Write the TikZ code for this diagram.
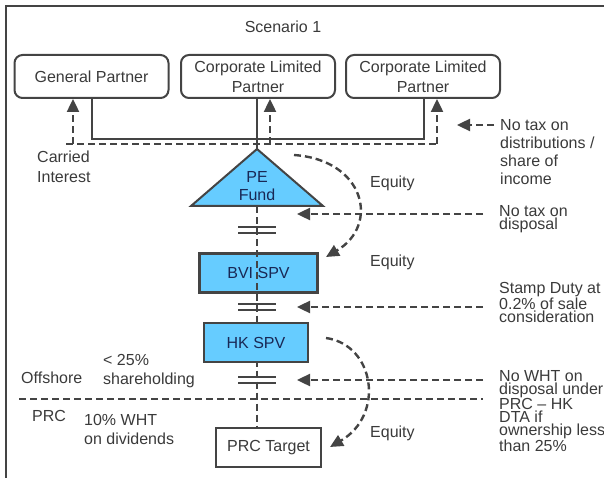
\documentclass[tikz,border=0pt]{standalone}
\usepackage{fontspec}
\setmainfont{Liberation Sans}
\usetikzlibrary{arrows.meta}
\definecolor{ink}{RGB}{68,68,68}
\definecolor{txt}{RGB}{58,58,58}
\definecolor{fundblue}{RGB}{102,204,255}
\definecolor{navy}{RGB}{25,40,85}

\begin{document}
\begin{tikzpicture}[x=1pt,y=-1pt,
  every node/.style={font=\fontsize{16}{18}\selectfont, text=txt, inner sep=0pt},
  partybox/.style={draw=ink, line width=2pt, rounded corners=8pt,
    minimum width=154pt, minimum height=43pt, align=center,
    font=\fontsize{16}{20}\selectfont},
  entitybox/.style={draw=ink, line width=2.4pt, fill=fundblue, text=navy,
    minimum height=39pt},
  plainbox/.style={draw=ink, line width=2pt, fill=white, minimum height=39pt},
  link/.style={draw=ink, line width=2pt},
  dashlink/.style={draw=ink, line width=2.4pt, dash pattern=on 7pt off 4pt},
  tip/.style={-{Triangle[length=13pt,width=12pt]}},
  note/.style={anchor=west, align=left},
  bar/.style={draw=ink, line width=2.6pt}
]
\useasboundingbox (0,0) rectangle (604,478);

% outer frame (left and top edges)
\draw[ink, line width=2.5pt] (6,478) -- (6,6) -- (604,6);

\node (title) at (283,27) {Scenario 1};

% partners
\node[partybox] (gp)   at (91.5,76.5) {General Partner};
\node[partybox] (clp1) at (258,76.5)  {Corporate Limited\\Partner};
\node[partybox] (clp2) at (423,76.5)  {Corporate Limited\\Partner};

% PE fund triangle
\coordinate (apex) at (257,149);
\coordinate (baseL) at (191,206);
\coordinate (baseR) at (323,206);
\coordinate (baseM) at (257,206);
\draw[fill=fundblue, draw=ink, line width=2pt, line join=miter] (apex) -- (baseR) -- (baseL) -- cycle;
\node[align=center, text=navy] (pe) at (257,186) {PE\\Fund};

% partner bus
\coordinate (busL) at (gp.south |- 0,139);
\coordinate (busR) at (424,139);
\draw[link] (gp.south) -- (busL) -- (busR) -- (424,98);
\draw[link] (clp1.south -| apex) -- (apex);

% ownership chain
\node[entitybox, minimum width=118pt] (bvi) at (258.5,273) {BVI SPV};
\coordinate (eq1) at (257,230);
\coordinate (eq2) at (257,307);
\coordinate (eq3) at (257,380);
\draw[dashlink] (baseM) -- (bvi.south -| baseM);
\node[plainbox, minimum width=105pt] (prc) at (268.5,447.5) {PRC Target};
\draw[dashlink] (bvi.south -| baseM) -- (prc.north -| baseM);
\node[entitybox, minimum width=104pt] (hk) at (256,342.5) {HK SPV};

% equal-sign markers on the chain
\foreach \e in {eq1,eq2,eq3}{
  \draw[bar] ([xshift=-19pt,yshift=3pt]\e) -- ([xshift=19pt,yshift=3pt]\e);
  \draw[bar] ([xshift=-19pt,yshift=-3pt]\e) -- ([xshift=19pt,yshift=-3pt]\e);
}

% distributions back to partners
\coordinate (dL) at (66,144);
\coordinate (dR) at (437,144);
\draw[dashlink] (dL) -- (dR);
\coordinate (d1) at (73,144);
\coordinate (d2) at (270,144);
\draw[dashlink, tip] (d1) -- (d1 |- gp.south);
\draw[dashlink, tip] (d2) -- (d2 |- clp1.south);
\draw[dashlink, tip] (dR) -- (dR |- clp2.south);

% equity flows
\coordinate (e1s) at (294,155);
\coordinate (e1e) at (326,257);
\draw[dashlink, tip] (e1s) .. controls (365,160) and (380,225) .. (e1e);
\coordinate (e2s) at (326,338);
\coordinate (e2e) at (330,447);
\draw[dashlink, tip] (e2s) .. controls (375,345) and (385,415) .. (e2e);

% offshore / PRC divide
\coordinate (offL) at (19,399);
\coordinate (offR) at (483,399);
\draw[dashlink] (offL) -- (offR);

% tax notes and their pointers
\coordinate (n1s) at (494,125);
\coordinate (n1e) at (457,125);
\draw[dashlink, tip] (n1s) -- (n1e);
\coordinate (n2s) at (483,214);
\coordinate (n2e) at (297,214);
\draw[dashlink, tip] (n2s) -- (n2e);
\coordinate (n3s) at (483,307);
\coordinate (n3e) at (297,307);
\draw[dashlink, tip] (n3s) -- (n3e);
\coordinate (n4s) at (483,380);
\coordinate (n4e) at (297,380);
\draw[dashlink, tip] (n4s) -- (n4e);

\node[note] (t1) at (500,152) {No tax on\\distributions /\\share of\\income};
\node[note, font=\fontsize{16}{13}\selectfont] (t2) at (499,219.5) {No tax on\\disposal};
\node[note, font=\fontsize{16}{12.5}\selectfont] (t3) at (499,302.5) {Stamp Duty at\\0.2\% of sale\\consideration};
\node[note, font=\fontsize{16}{12.8}\selectfont] (t4) at (499,411) {No WHT on\\disposal under\\PRC – HK\\DTA if\\ownership less\\than 25\%};

\node[note, font=\fontsize{16}{20}\selectfont] (carried) at (37,167) {Carried\\Interest};
\node[note] (eqa) at (370,183) {Equity};
\node[note] (eqb) at (370,262) {Equity};
\node[note] (eqc) at (370,433) {Equity};

\node[note] (offshore) at (21,378) {Offshore};
\node[note, font=\fontsize{16}{19}\selectfont] (share) at (103,371.5) {< 25\%\\shareholding};
\node[note] (prclbl) at (32,416) {PRC};
\node[note, font=\fontsize{16}{19}\selectfont] (wht) at (84,429.5) {10\% WHT\\on dividends};
\end{tikzpicture}
\end{document}
